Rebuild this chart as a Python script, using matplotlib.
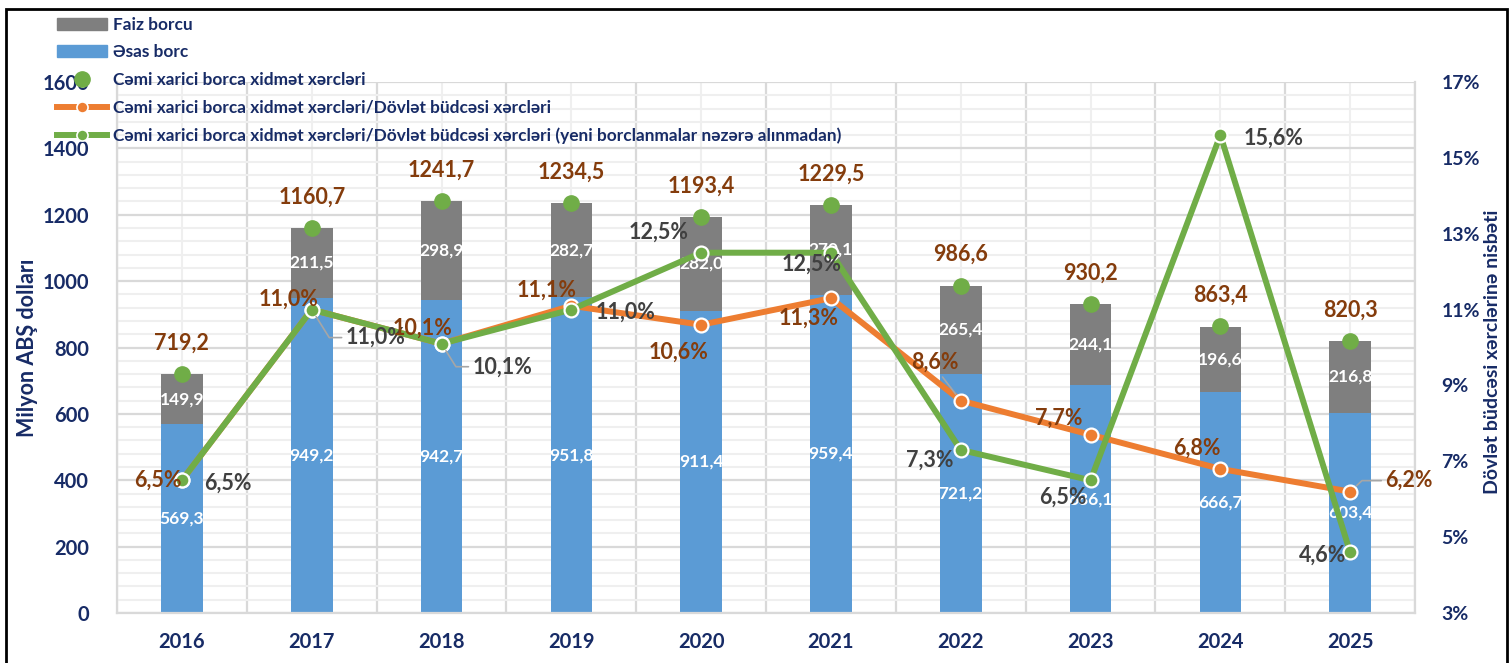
import matplotlib
matplotlib.use("Agg")
import matplotlib.pyplot as plt
import numpy as np
from matplotlib.lines import Line2D
from matplotlib.patches import Patch, Rectangle
from matplotlib.ticker import MultipleLocator, FuncFormatter

plt.rcParams['font.family'] = ['Lato', 'Open Sans', 'DejaVu Sans']

years = ['2016', '2017', '2018', '2019', '2020', '2021', '2022', '2023', '2024', '2025']
faiz_borcu = [149.9, 211.5, 298.9, 282.7, 282.0, 270.1, 265.4, 244.1, 196.6, 216.8]
esas_borc = [569.3, 949.2, 942.7, 951.8, 911.4, 959.4, 721.2, 686.1, 666.7, 603.4]
cemi = [719.2, 1160.7, 1241.7, 1234.5, 1193.4, 1229.5, 986.6, 930.2, 863.4, 820.3]
nisbet = [6.5, 11.0, 10.1, 11.1, 10.6, 11.3, 8.6, 7.7, 6.8, 6.2]
nisbet_yeni = [6.5, 11.0, 10.1, 11.0, 12.5, 12.5, 7.3, 6.5, 15.6, 4.6]
pct_ticks = [3, 5, 7, 9, 11, 13, 15, 17]

legend_labels = [
    'Faiz borcu',
    'Əsas borc',
    'Cəmi xarici borca xidmət xərcləri',
    'Cəmi xarici borca xidmət xərcləri/Dövlət büdcəsi xərcləri',
    'Cəmi xarici borca xidmət xərcləri/Dövlət büdcəsi xərcləri (yeni borclanmalar nəzərə alınmadan)',
]

# label offsets in pixels (dx, dy with dy up)
off_nisbet = [(-24, 0), (-23, 10), (-19, 16), (-25, 16), (-23, -27), (-22, -20),
              (-26, 38), (-32, 17), (-23, 21), (59, 11)]
off_yeni = [(46, -3), (64, -28), (61, -23), (54, -3), (-43, 20), (-19, -12),
            (-31, -10), (-28, -17), (53, -3), (-28, -3)]

BLUE = '#5B9BD5'
GRAY = '#7F7F7F'
ORANGE = '#ED7D31'
GREEN = '#70AD47'
BROWN = '#843C0C'
DARK = '#404040'
NAVY = '#172B66'


def fmt(v):
    return f"{v:.1f}".replace('.', ',')


fig = plt.figure(figsize=(15.12, 6.63), dpi=100)
ax = fig.add_axes([0.0774, 0.0754, 0.8585, 0.8009])
x = np.arange(len(years))
w = 0.32

ax.bar(x, esas_borc, w, color=BLUE, zorder=2)
ax.bar(x, faiz_borcu, w, bottom=esas_borc, color=GRAY, zorder=2)
ax.plot(x, cemi, ls='none', marker='o', ms=11, color=GREEN, zorder=3)

for i in range(len(x)):
    ax.text(x[i], esas_borc[i] / 2, fmt(esas_borc[i]), ha='center', va='center',
            color='white', fontsize=12.5, fontweight='bold', zorder=4)
    ax.text(x[i], esas_borc[i] + faiz_borcu[i] / 2, fmt(faiz_borcu[i]), ha='center',
            va='center', color='white', fontsize=12.5, fontweight='bold', zorder=4)
    ax.annotate(fmt(cemi[i]), (x[i], cemi[i]), xytext=(0, 31), textcoords='offset pixels',
                ha='center', va='center', color=BROWN, fontsize=15.5, fontweight='bold', zorder=4)

ax.set_xlim(-0.5, len(x) - 0.5)
ax.set_ylim(0, 1600)
ax.set_xticks(x)
ax.set_xticklabels(years)
ax.set_xticks(np.arange(-0.5, len(x), 1), minor=True)
ax.yaxis.set_major_locator(MultipleLocator(200))
ax.yaxis.set_minor_locator(MultipleLocator(40))
ax.set_axisbelow(True)
ax.grid(which='major', axis='y', color='#D9D9D9', lw=1.6)
ax.grid(which='minor', axis='y', color='#EFEFEF', lw=1.5)
ax.grid(which='minor', axis='x', color='#D9D9D9', lw=1.6)
ax.grid(which='major', axis='x', color='#EFEFEF', lw=1.5)
ax.tick_params(which='both', length=0)
ax.tick_params(axis='y', pad=20, labelsize=14.5, labelcolor=NAVY)
ax.tick_params(axis='x', pad=14, labelsize=14.5, labelcolor=NAVY)
for lab in ax.get_xticklabels() + ax.get_yticklabels():
    lab.set_fontweight('bold')
for s in ['top', 'right']:
    ax.spines[s].set_visible(False)
for s in ['left', 'bottom']:
    ax.spines[s].set_color('#D9D9D9')
    ax.spines[s].set_linewidth(1.6)

ax2 = ax.twinx()
ax2.set_ylim(3, 17)
ax2.set_yticks(pct_ticks)
ax2.yaxis.set_major_formatter(FuncFormatter(lambda v, p: f"{v:.0f}%"))
ax2.tick_params(length=0, pad=19, labelsize=14, labelcolor=NAVY)
for lab in ax2.get_yticklabels():
    lab.set_fontweight('bold')
for s in ['top', 'left', 'bottom']:
    ax2.spines[s].set_visible(False)
ax2.spines['right'].set_color('#D9D9D9')
ax2.spines['right'].set_linewidth(1.6)

ax2.plot(x, nisbet, color=ORANGE, lw=4.3, marker='o', ms=10, mfc=ORANGE,
         mec='white', mew=1.6, zorder=3, solid_joinstyle='round')
ax2.plot(x, nisbet_yeni, color=GREEN, lw=4.3, marker='o', ms=10, mfc=GREEN,
         mec='white', mew=1.6, zorder=4, solid_joinstyle='round')

leader = dict(arrowstyle='-', color='#A6A6A6', lw=1.2, shrinkA=1, shrinkB=6)
for i in range(len(x)):
    arrow = None
    if i == 6:
        arrow = dict(leader, relpos=(0.6, 0.0))
    elif i == 9:
        arrow = dict(leader, relpos=(0.0, 0.5), connectionstyle='angle,angleA=0,angleB=43')
    ax2.annotate(fmt(nisbet[i]) + '%', (x[i], nisbet[i]), xytext=off_nisbet[i],
                 textcoords='offset pixels', ha='center', va='center', color=BROWN,
                 fontsize=15.5, fontweight='bold', zorder=5, arrowprops=arrow)
    arrow = None
    if i in (1, 2):
        arrow = dict(leader, relpos=(0.0, 0.5), connectionstyle='angle,angleA=0,angleB=-58')
    ax2.annotate(fmt(nisbet_yeni[i]) + '%', (x[i], nisbet_yeni[i]), xytext=off_yeni[i],
                 textcoords='offset pixels', ha='center', va='center', color=DARK,
                 fontsize=15.5, fontweight='bold', zorder=5, arrowprops=arrow)

handles = [
    Patch(color=GRAY),
    Patch(color=BLUE),
    Line2D([], [], ls='none', marker='o', ms=11, color=GREEN),
    Line2D([], [], color=ORANGE, lw=4.3, marker='o', ms=8, mfc=ORANGE, mec='white', mew=1.2),
    Line2D([], [], color=GREEN, lw=4.3, marker='o', ms=8, mfc=GREEN, mec='white', mew=1.2),
]
fig.legend(handles, legend_labels, loc='upper left', bbox_to_anchor=(0.038, 0.975),
           frameon=False, prop={'weight': 'bold', 'size': 12.4}, labelcolor=NAVY,
           handlelength=2.9, handletextpad=0.35, labelspacing=0.68,
           borderpad=0, borderaxespad=0)

fig.text(28 / 1512, 1 - 348 / 663, 'Milyon ABŞ dolları', rotation=90, ha='center',
         va='center', fontsize=15.5, fontweight='bold', color=NAVY)
fig.text(1492 / 1512, 1 - 352 / 663, 'Dövlət büdcəsi xərclərinə nisbəti', rotation=90,
         ha='center', va='center', fontsize=14, fontweight='bold', color=NAVY)

fig.add_artist(Rectangle((6 / 1512, -0.02), 1501 / 1512, 1 - 9 / 663 + 0.02,
                         transform=fig.transFigure, fill=False, ec='black', lw=2))

fig.savefig('out.png', dpi=100)
plt.close(fig)
